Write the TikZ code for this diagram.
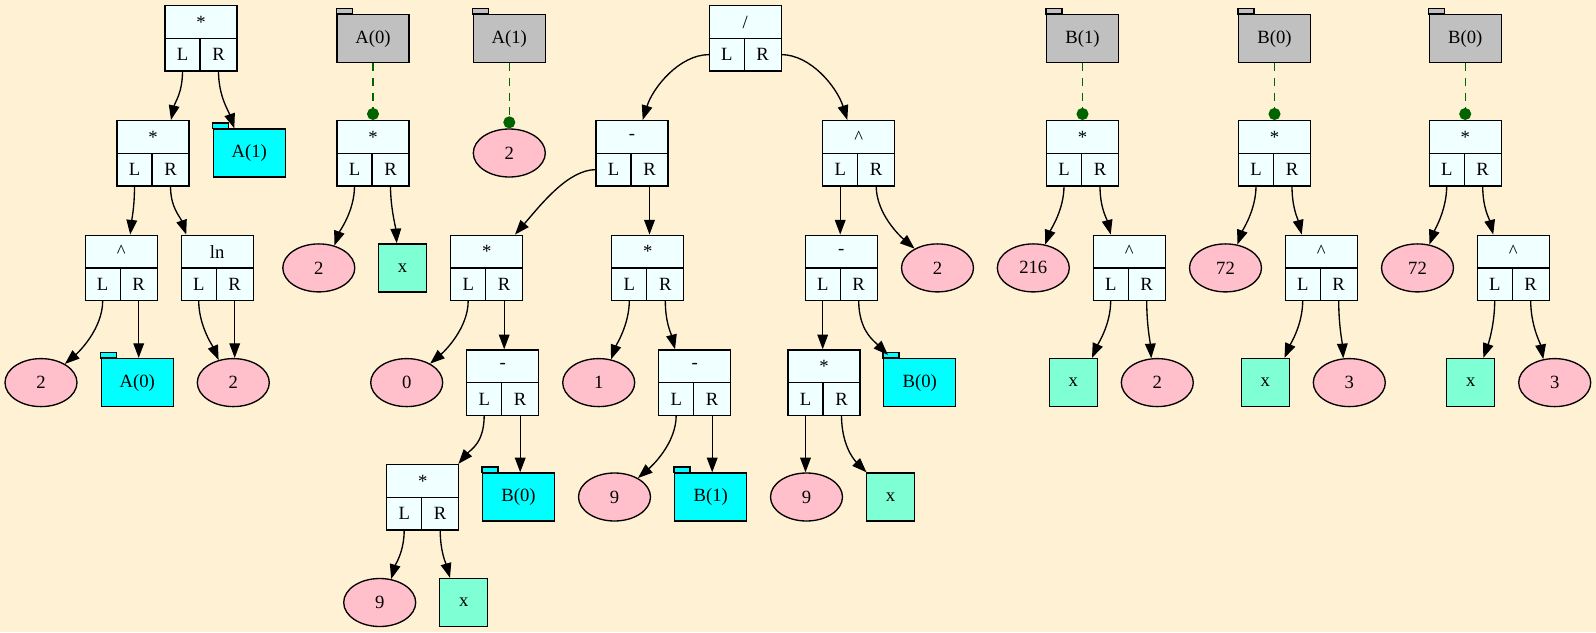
\documentclass[tikz,border=0pt]{standalone}
\usepackage{fontspec}
\setmainfont{Liberation Serif}
\usetikzlibrary{arrows.meta,calc,shapes.geometric}

\definecolor{bgc}{RGB}{255,242,212}
\definecolor{azurec}{HTML}{F0FFFF}
\definecolor{pinkc}{HTML}{FFC0CB}
\definecolor{aquac}{HTML}{7FFFD4}
\definecolor{cyanc}{HTML}{00FFFF}
\definecolor{grayc}{HTML}{C0C0C0}
\definecolor{dgreen}{HTML}{006400}

\tikzset{
  txt/.style={font=\fontsize{14pt}{16pt}\selectfont, inner sep=0pt},
  recbox/.style={draw, fill=azurec, line width=1pt, minimum width=54pt, minimum height=49pt, inner sep=0pt},
  recline/.style={line width=1pt},
  leaf/.style={txt, ellipse, draw, fill=pinkc, line width=1pt, minimum width=54pt, minimum height=36pt},
  var/.style={txt, rectangle, draw, fill=aquac, line width=1pt, minimum width=36pt, minimum height=36pt},
  foldbody/.style={txt, rectangle, draw, line width=1pt, minimum width=54pt, minimum height=36pt},
  edge/.style={draw, line width=1pt, -{Triangle[length=11pt,width=8pt]}},
  link/.style={draw=dgreen, color=dgreen, line width=1pt, dash pattern=on 6pt off 5pt, -{Circle[length=9pt]}},
}

% record node: operator on top, L and R ports below
\newcommand\recnode[4]{%
  \node[recbox] (#1) at (#2,#3) {};
  \draw[recline] (#1.west) -- (#1.east);
  \draw[recline] ($(#1.center)+(-1,0)$) -- ($(#1.south)+(-1,0)$);
  \node[txt] (#1-op) at ($(#1.center)+(0,-16.3)$) {#4};
  \node[txt] (#1-lt) at ($(#1.center)+(-18.5,16.3)$) {L};
  \node[txt] (#1-rt) at ($(#1.center)+(17.5,16.3)$) {R};
  \coordinate (#1-L) at ($(#1.center)+(-18.5,32.7)$);
  \coordinate (#1-R) at ($(#1.center)+(17.5,32.7)$);
  \coordinate (#1-Lw) at ($(#1.center)+(-36,16.3)$);
  \coordinate (#1-Re) at ($(#1.center)+(36,16.3)$);
}
% folder node with a tab on its upper left corner
\newcommand\foldnode[5]{%
  \node[foldbody, fill=#5] (#1) at (#2,#3) {#4};
  \draw[line width=1pt, fill=#5] (#1.north west) rectangle ++(12pt,4pt);
}

\begin{document}
\begin{tikzpicture}[x=0.75pt,y=-0.75pt]
\fill[bgc] (0,0) rectangle (1596,632);
\useasboundingbox (0,0) rectangle (1596,632);

% ---- tree 1
\recnode{t1a}{201}{38.3}{*}
\recnode{t1b}{153}{153.3}{*}
\foldnode{t1f}{249.3}{153}{A(1)}{cyanc}
\recnode{t1c}{121.2}{267.9}{\^{}}
\recnode{t1d}{217.2}{267.9}{ln}
\node[leaf] (t1e) at (41,382.6) {2};
\foldnode{t1g}{137.2}{382.6}{A(0)}{cyanc}
\node[leaf] (t1h) at (233.3,382.6) {2};

\draw[edge] (t1a-L) .. controls +(0,22) and +(4,-18) .. ($(t1b.north)+(18,0)$);
\draw[edge] (t1a-R) .. controls +(0,25) and +(-6,-18) .. ($(t1f.north)+(-15,0)$);
\draw[edge] (t1b-L) .. controls +(0,20) and +(2,-18) .. ($(t1c.north)+(9,0)$);
\draw[edge] (t1b-R) .. controls +(0,22) and +(-6,-18) .. ($(t1d.north)+(-31,0)$);
\draw[edge] (t1c-L) .. controls +(0,28) and +(14,-12) .. (t1e.38);
\draw[edge] (t1c-R) -- (t1c-R |- t1g.north);
\draw[edge] (t1d-L) .. controls +(0,25) and +(-6,-14) .. (t1h.123);
\draw[edge] (t1d-R) -- (t1d-R |- t1h.north);

% ---- tree 2
\foldnode{t2g}{373}{38.7}{A(0)}{grayc}
\recnode{t2a}{373}{153.3}{*}
\node[leaf] (t2b) at (318.8,267.9) {2};
\node[var] (t2c) at (402.5,267.9) {x};
\draw[link] (t2g.south) -- (t2a.north);
\draw[edge] (t2a-L) .. controls +(0,25) and +(5,-14) .. (t2b.55);
\draw[edge] (t2a-R) .. controls +(0,22) and +(-1,-16) .. ($(t2c.north)+(-5.8,0)$);

% ---- tree 3
\foldnode{t3g}{509.3}{38.7}{A(1)}{grayc}
\node[leaf] (t3a) at (509.3,153) {2};
\draw[link] (t3g.south) -- (t3a.north);

% ---- tree 4
\recnode{t4a}{745.2}{38.3}{/}
\recnode{t4b}{632}{153.3}{-}
\recnode{t4c}{858.7}{153.3}{\^{}}
\recnode{t4d}{486.7}{267.9}{*}
\recnode{t4e}{647.8}{267.9}{*}
\recnode{t4j}{841.2}{267.9}{-}
\node[leaf] (t4o) at (937.5,267.9) {2};
\node[leaf] (t4p) at (406.7,382.6) {0};
\recnode{t4f}{502.7}{382.6}{-}
\node[leaf] (t4q) at (598.7,382.6) {1};
\recnode{t4g}{694.7}{382.6}{-}
\recnode{t4k}{824}{382.6}{*}
\foldnode{t4l}{919.8}{382.6}{B(0)}{cyanc}
\recnode{t4h}{422.7}{497.2}{*}
\foldnode{t4i}{518.5}{497}{B(0)}{cyanc}
\node[leaf] (t4r) at (614.5,497) {9};
\foldnode{t4s}{710.7}{497}{B(1)}{cyanc}
\node[leaf] (t4t) at (806.5,497) {9};
\node[var] (t4n) at (890.5,497) {x};
\node[leaf] (t4u) at (379.7,602.5) {9};
\node[var] (t4v) at (463.8,602.5) {x};

\draw[edge] (t4a-Lw) .. controls +(-30,0) and +(10,-32) .. ($(t4b.north)+(10.7,0)$);
\draw[edge] (t4a-Re) .. controls +(30,0) and +(-10,-32) .. ($(t4c.north)+(-11.4,0)$);
\draw[edge] (t4b-Lw) .. controls +(-28,0) and +(26,-30) .. ($(t4d.north)+(28.3,0)$);
\draw[edge] (t4b-R) -- (t4b-R |- t4e.north);
\draw[edge] (t4d-L) .. controls +(0,28) and +(14,-12) .. (t4p.39);
\draw[edge] (t4d-R) -- (t4d-R |- t4f.north);
\draw[edge] (t4f-L) .. controls +(0,28) and +(12,-14) .. ($(t4h.north east)+(-1,0)$);
\draw[edge] (t4f-R) -- (t4f-R |- t4i.north);
\draw[edge] (t4h-L) .. controls +(0,22) and +(4,-14) .. (t4u.64);
\draw[edge] (t4h-R) .. controls +(0,22) and +(-4,-14) .. ($(t4v.north)+(-13.8,0)$);
\draw[edge] (t4e-L) .. controls +(0,24) and +(5,-14) .. (t4q.62);
\draw[edge] (t4e-R) .. controls +(0,22) and +(-4,-16) .. ($(t4g.north)+(-19.7,0)$);
\draw[edge] (t4g-L) .. controls +(0,28) and +(14,-12) .. (t4r.39);
\draw[edge] (t4g-R) -- (t4g-R |- t4s.north);
\draw[edge] (t4c-L) -- (t4c-L |- t4j.north);
\draw[edge] (t4c-R) .. controls +(0,28) and +(-14,-12) .. (t4o.140);
\draw[edge] (t4j-L) -- (t4j-L |- t4k.north);
\draw[edge] (t4j-R) .. controls +(0,30) and +(-14,-14) .. ($(t4l.north west)+(4.8,-3)$);
\draw[edge] (t4k-L) -- (t4k-L |- t4t.north);
\draw[edge] (t4k-R) .. controls +(0,28) and +(-14,-14) .. ($(t4n.north west)+(0.7,0)$);

% ---- tree 5
\foldnode{t5g}{1082.5}{38.7}{B(1)}{grayc}
\recnode{t5a}{1082.5}{153.3}{*}
\node[leaf] (t5e) at (1033.3,267.9) {216};
\recnode{t5b}{1129.2}{267.9}{\^{}}
\node[var] (t5c) at (1073.3,382.6) {x};
\node[leaf] (t5d) at (1157.3,382.6) {2};
\draw[link] (t5g.south) -- (t5a.north);
\draw[edge] (t5a-L) .. controls +(0,24) and +(5,-14) .. (t5e.63);
\draw[edge] (t5a-R) .. controls +(0,22) and +(-4,-16) .. ($(t5b.north)+(-18.5,0)$);
\draw[edge] (t5b-L) .. controls +(0,24) and +(6,-14) .. ($(t5c.north)+(18.7,0)$);
\draw[edge] (t5b-R) .. controls +(0,25) and +(-1,-16) .. (t5d.104);

% ---- tree 6
\foldnode{t6g}{1274.5}{38.7}{B(0)}{grayc}
\recnode{t6a}{1274.5}{153.3}{*}
\node[leaf] (t6e) at (1225.5,267.9) {72};
\recnode{t6b}{1321.2}{267.9}{\^{}}
\node[var] (t6c) at (1265.3,382.6) {x};
\node[leaf] (t6d) at (1349.3,382.6) {3};
\draw[link] (t6g.south) -- (t6a.north);
\draw[edge] (t6a-L) .. controls +(0,24) and +(5,-14) .. (t6e.63);
\draw[edge] (t6a-R) .. controls +(0,22) and +(-4,-16) .. ($(t6b.north)+(-19.5,0)$);
\draw[edge] (t6b-L) .. controls +(0,24) and +(6,-14) .. ($(t6c.north)+(19.2,0)$);
\draw[edge] (t6b-R) .. controls +(0,25) and +(-1,-16) .. (t6d.104);

% ---- tree 7
\foldnode{t7g}{1465.2}{38.7}{B(0)}{grayc}
\recnode{t7a}{1465.2}{153.3}{*}
\node[leaf] (t7e) at (1417.5,267.9) {72};
\recnode{t7b}{1513.2}{267.9}{\^{}}
\node[var] (t7c) at (1470.7,382.6) {x};
\node[leaf] (t7d) at (1554.7,382.6) {3};
\draw[link] (t7g.south) -- (t7a.north);
\draw[edge] (t7a-L) .. controls +(0,24) and +(5,-14) .. (t7e.63);
\draw[edge] (t7a-R) .. controls +(0,22) and +(-4,-16) .. ($(t7b.north)+(-20,0)$);
\draw[edge] (t7b-L) .. controls +(0,24) and +(5,-14) .. ($(t7c.north)+(12.6,0)$);
\draw[edge] (t7b-R) .. controls +(0,25) and +(-3,-16) .. (t7d.116);
\end{tikzpicture}
\end{document}
